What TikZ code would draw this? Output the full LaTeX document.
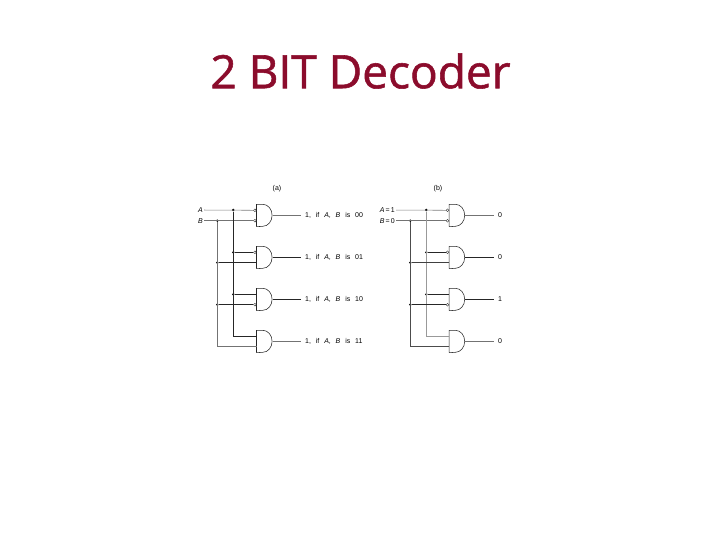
\documentclass[tikz,border=0pt]{standalone}
\usepackage{fontspec}
\setmainfont[WordSpace=2.5]{Liberation Sans}
\newfontfamily\titlefont[FakeBold=1.2]{Open Sans}
\usepackage{xcolor}
\usetikzlibrary{positioning,calc}
\definecolor{titlered}{RGB}{139,12,44}
\tikzset{%
  gate/.style     = {rectangle, inner sep = 0pt, minimum width = 15.6pt, minimum height = 22pt,
    append after command = {\pgfextra{\draw[line width = 0.55pt, black!85]
      (\tikzlastnode.south west) -- (\tikzlastnode.north west) -- +(6.3,0)
      arc[start angle = 90, end angle = -90, x radius = 9.3pt, y radius = 11pt]
      -- (\tikzlastnode.south west);}}},
  bubble/.style   = {circle, draw, line width = 0.4pt, black!80, inner sep = 0pt,
    minimum size = 2.8pt, anchor = east},
  wire/.style     = {draw, line width = 0.55pt, black!85}, % Dark wire
  softwire/.style = {draw, line width = 0.9pt, black!55}, % Grey wire
  dot/.style      = {circle, fill = black, inner sep = 0pt, minimum size = 2.7pt},
  small/.style    = {font = \fontsize{7}{8}\selectfont, inner sep = 1pt}
}
\newcommand{\var}[1]{\textit{#1}}
\begin{document}
\begin{tikzpicture}[x=1pt, y=-1pt, node distance=42pt]
        \useasboundingbox (0,0) rectangle (720,540);
        \node[font=\titlefont\fontsize{46}{52}\selectfont, text=titlered] (title) at (360.5,71) {2 BIT Decoder};

        % (a)
        \node[small] (capa) at (277,189) {(a)};
        \node[small, anchor=east] (lblA) at (204,210) {\var{A}};
        \node[small, anchor=east] (lblB) at (204,220.7) {\var{B}};
        \node[gate] (g1) at (264.5,215.5) {};
        \node[gate, below of=g1] (g2) {};
        \node[gate, below of=g2] (g3) {};
        \node[gate, below of=g3] (g4) {};
        \node[small, anchor=west] (out1) at (304,215.5) {1, if \var{A}, \var{B} is 00};
        \node[small, anchor=west] (out2) at (304,257.5) {1, if \var{A}, \var{B} is 01};
        \node[small, anchor=west] (out3) at (304,299.5) {1, if \var{A}, \var{B} is 10};
        \node[small, anchor=west] (out4) at (304,341.5) {1, if \var{A}, \var{B} is 11};

        % (b)
        \node[small] (capb) at (438,189) {(b)};
        \node[small, anchor=east] (lblAb) at (396,210) {\var{A}\,=\,1};
        \node[small, anchor=east] (lblBb) at (396,220.7) {\var{B}\,=\,0};
        \node[gate] (h1) at (457.1,215.5) {};
        \node[gate, below of=h1] (h2) {};
        \node[gate, below of=h2] (h3) {};
        \node[gate, below of=h3] (h4) {};
        \node[small, anchor=west] (res1) at (497,215.5) {0};
        \node[small, anchor=west] (res2) at (497,257.5) {0};
        \node[small, anchor=west] (res3) at (497,299.5) {1};
        \node[small, anchor=west] (res4) at (497,341.5) {0};

        % Gate inputs
        \foreach \g in {g1,g2,g3,g4,h1,h2,h3,h4} {
            \coordinate (\g a) at ($(\g.west)+(0,-5.2)$);
            \coordinate (\g b) at ($(\g.west)+(0,5.2)$);
        }
        \node[bubble] (n1a) at (g1a) {};
        \node[bubble] (n1b) at (g1b) {};
        \node[bubble] (n2a) at (g2a) {};
        \node[bubble] (n3b) at (g3b) {};
        \node[bubble] (m1a) at (h1a) {};
        \node[bubble] (m1b) at (h1b) {};
        \node[bubble] (m2a) at (h2a) {};
        \node[bubble] (m3b) at (h3b) {};

        % Wires of (a)
        \node[dot] (tapA) at (233.3,210) {};
        \node[dot] (tapB) at (217.3,220.7) {};
        \node[dot] (tapA2) at (tapA |- g2a) {};
        \node[dot] (tapB2) at (tapB |- g2b) {};
        \node[dot] (tapA3) at (tapA |- g3a) {};
        \node[dot] (tapB3) at (tapB |- g3b) {};
        \draw[wire, black!50] (lblA) -- (n1a);
        \draw[softwire] (lblB) -- (n1b);
        \draw[wire] (tapA) |- (g4a);
        \draw[softwire] (tapB) |- (g4b);
        \draw[wire] (tapA2) -- (n2a);
        \draw[wire] (tapB2) -- (g2b);
        \draw[wire] (tapA3) -- (g3a);
        \draw[wire] (tapB3) -- (n3b);
        \draw[softwire, shorten >=3.5pt] (g1.east) -- (out1);
        \draw[wire, shorten >=3.5pt] (g2.east) -- (out2);
        \draw[wire, shorten >=3.5pt] (g3.east) -- (out3);
        \draw[softwire, shorten >=3.5pt] (g4.east) -- (out4);

        % Wires of (b)
        \node[dot] (pinA) at (426.3,210) {};
        \node[dot] (pinB) at (410.3,220.7) {};
        \node[dot] (pinA2) at (pinA |- h2a) {};
        \node[dot] (pinB2) at (pinB |- h2b) {};
        \node[dot] (pinA3) at (pinA |- h3a) {};
        \node[dot] (pinB3) at (pinB |- h3b) {};
        \draw[wire, black!50] (lblAb) -- (m1a);
        \draw[softwire] (lblBb) -- (m1b);
        \draw[wire, black!40] (pinA) |- (h4a);
        \draw[wire, black!70] (pinB) |- (h4b);
        \draw[wire] (pinA2) -- (m2a);
        \draw[softwire, black!75] (pinB2) -- (h2b);
        \draw[wire] (pinA3) -- (h3a);
        \draw[wire] (pinB3) -- (m3b);
        \draw[softwire, shorten >=3.5pt] (h1.east) -- (res1);
        \draw[wire, shorten >=3.5pt] (h2.east) -- (res2);
        \draw[wire, shorten >=3.5pt] (h3.east) -- (res3);
        \draw[softwire, shorten >=3.5pt] (h4.east) -- (res4);
\end{tikzpicture}
\end{document}
